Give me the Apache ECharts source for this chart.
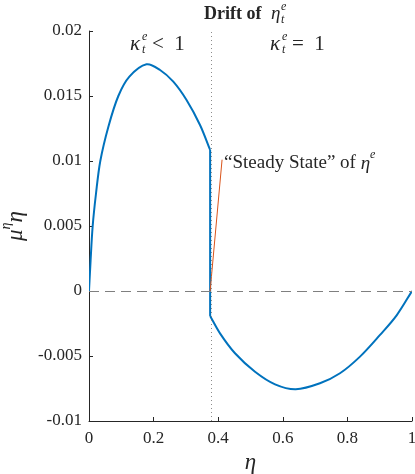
<!DOCTYPE html>
<html lang="en">
<head>
<meta charset="UTF-8">
<title>Drift of eta</title>
<script src="https://cdn.jsdelivr.net/npm/echarts@6/dist/echarts.min.js"></script>
<style>
  html, body { margin: 0; padding: 0; background: #fff; }
  #chart { width: 415px; height: 474px; }
</style>
</head>
<body>
<div id="chart"></div>
<script>
// values
const etaLeft = [0, 0.005, 0.0114, 0.0217, 0.035, 0.06, 0.0908, 0.125, 0.178, 0.22, 0.261, 0.302, 0.3437, 0.375];
const driftLeft = [0, 0.00238, 0.005, 0.0075, 0.01, 0.01264, 0.015, 0.01649, 0.01744, 0.017, 0.0161, 0.01469, 0.01277, 0.01085];
const etaRight = [0.375, 0.4056, 0.452, 0.514, 0.576, 0.64, 0.715, 0.777, 0.839, 0.901, 0.953, 1];
const driftRight = [-0.00192, -0.00326, -0.00479, -0.00621, -0.00718, -0.00756, -0.0071, -0.00633, -0.00505, -0.00338, -0.00185, 0];
const etaSteady = 0.375;
const arrowEnd = [0.412, 0.0101];
const xTicks = ['0', '0.2', '0.4', '0.6', '0.8', '1'];
const yTicks = ['-0.01', '-0.005', '0', '0.005', '0.01', '0.015', '0.02'];

const serif = '"Liberation Serif"';
const ink = '#262626';
const blue = '#0072BD';
const zip = (a, b) => a.map((v, i) => [v, b[i]]);

// smooth curve through the data points (pixel coords come from api.coord)
function curveSeries(data) {
  return {
    type: 'custom', data: data, clip: true,
    renderItem: function (params, api) {
      if (params.dataIndex !== 0) return;
      const p = data.map(d => api.coord(d));
      const n = p.length;
      const dist = (a, b) => Math.hypot(b[0] - a[0], b[1] - a[1]);
      const seg = [];
      for (let i = 0; i < n - 1; i++) seg.push(dist(p[i], p[i + 1]));
      const tan = p.map((pt, i) => {
        if (i === 0) return [(p[1][0] - pt[0]) / seg[0], (p[1][1] - pt[1]) / seg[0]];
        if (i === n - 1) return [(pt[0] - p[i - 1][0]) / seg[i - 1], (pt[1] - p[i - 1][1]) / seg[i - 1]];
        const s = seg[i - 1] + seg[i];
        return [(p[i + 1][0] - p[i - 1][0]) / s, (p[i + 1][1] - p[i - 1][1]) / s];
      });
      let path = 'M' + p[0][0] + ' ' + p[0][1];
      for (let i = 0; i < n - 1; i++) {
        const k = seg[i] / 3;
        const c1 = [p[i][0] + tan[i][0] * k, p[i][1] + tan[i][1] * k];
        const c2 = [p[i + 1][0] - tan[i + 1][0] * k, p[i + 1][1] - tan[i + 1][1] * k];
        path += ' C' + c1.join(' ') + ' ' + c2.join(' ') + ' ' + p[i + 1].join(' ');
      }
      return { type: 'path', shape: { pathData: path }, style: { fill: 'none', stroke: blue, lineWidth: 2 } };
    }
  };
}

// base symbol with stacked super/subscript (+ optional trailing text)
function mathText(x, y, base, sup, sub, tail, opts) {
  opts = opts || {};
  const fs = opts.size || 19;
  const bw = opts.baseWidth || 11;
  const items = [
    { type: 'text', x: x, y: y, style: { text: base, font: 'italic ' + fs + 'px ' + serif, fill: ink, verticalAlign: 'middle' } },
    { type: 'text', x: x + bw, y: y - 7, style: { text: sup, font: 'italic 12px ' + serif, fill: ink, verticalAlign: 'middle' } },
    { type: 'text', x: x + bw, y: y + 6, style: { text: sub, font: 'italic 12px ' + serif, fill: ink, verticalAlign: 'middle' } }
  ];
  if (tail) items.push({ type: 'text', x: x + bw + (opts.tailGap || 10), y: y, style: { text: tail, font: fs + 'px ' + serif, fill: ink, verticalAlign: 'middle' } });
  return { type: 'group', children: items };
}

const chart = echarts.init(document.getElementById('chart'));
chart.setOption({
  animation: false,
  grid: { left: 89, right: 3, top: 31, bottom: 53, outerBoundsMode: 'none', containLabel: false },
  xAxis: {
    type: 'value', min: 0, max: 1, interval: 0.2,
    axisLine: { onZero: false, lineStyle: { color: ink, width: 1 } },
    axisTick: { inside: true, length: 4, lineStyle: { color: ink } },
    axisLabel: { color: ink, fontFamily: serif, fontSize: 17, margin: 9,
      formatter: v => xTicks[Math.round(v / 0.2)] },
    splitLine: { show: false },
    name: 'η', nameLocation: 'middle', nameGap: 30,
    nameTextStyle: { fontFamily: serif, fontStyle: 'italic', fontSize: 23, color: ink }
  },
  yAxis: {
    type: 'value', min: -0.01, max: 0.02, interval: 0.005,
    axisLine: { show: true, lineStyle: { color: ink, width: 1 } },
    axisTick: { show: true, inside: true, length: 4, lineStyle: { color: ink } },
    axisLabel: { color: ink, fontFamily: serif, fontSize: 17, margin: 7,
      formatter: v => yTicks[Math.round((v + 0.01) / 0.005)] },
    splitLine: { show: false },
    name: '{m|μ}{s|η}{m|η}', nameLocation: 'middle', nameRotate: 90, nameGap: 56,
    nameTextStyle: {
      rich: {
        m: { fontFamily: serif, fontStyle: 'italic', fontSize: 23, color: ink, lineHeight: 28, verticalAlign: 'bottom' },
        s: { fontFamily: serif, fontStyle: 'italic', fontSize: 14, color: ink, lineHeight: 28, verticalAlign: 'top' }
      }
    }
  },
  series: [
    {
      // reference lines: zero drift and the steady state
      type: 'line', data: [], symbol: 'none',
      markLine: {
        silent: true, symbol: 'none', label: { show: false },
        data: [
          { yAxis: 0, lineStyle: { color: '#7f7f7f', width: 1, type: [10, 6] } },
          { xAxis: etaSteady, lineStyle: { color: '#8c8c8c', width: 1, type: [1, 3] } }
        ]
      }
    },
    curveSeries(zip(etaLeft, driftLeft)),
    {
      type: 'line', data: [[etaSteady, driftLeft[driftLeft.length - 1]], [etaSteady, driftRight[0]]],
      symbol: 'none', lineStyle: { color: blue, width: 2 }
    },
    curveSeries(zip(etaRight, driftRight)),
    {
      type: 'line', data: [[etaSteady, 0], arrowEnd], symbol: 'none',
      lineStyle: { color: '#D95319', width: 1 }
    }
  ],
  graphic: [
    { type: 'text', x: 204, y: 14, style: { text: 'Drift of', font: 'bold 18px ' + serif, fill: ink, verticalAlign: 'middle' } },
    mathText(271, 14, 'η', 'e', 't', '', { size: 19, baseWidth: 10 }),
    mathText(130, 44, 'κ', 'e', 't', '<  1', { size: 21, baseWidth: 12 }),
    mathText(270, 44, 'κ', 'e', 't', '=  1', { size: 21, baseWidth: 12 }),
    {
      type: 'text', x: 224, y: 161,
      style: {
        text: '{t|“Steady State” of }{i|η}{s|e}', verticalAlign: 'middle',
        rich: {
          t: { fontFamily: serif, fontSize: 19, fill: ink, lineHeight: 24, verticalAlign: 'bottom' },
          i: { fontFamily: serif, fontStyle: 'italic', fontSize: 19, fill: ink, lineHeight: 24, verticalAlign: 'bottom' },
          s: { fontFamily: serif, fontStyle: 'italic', fontSize: 12, fill: ink, lineHeight: 24, verticalAlign: 'top' }
        }
      }
    }
  ]
});
</script>
</body>
</html>
